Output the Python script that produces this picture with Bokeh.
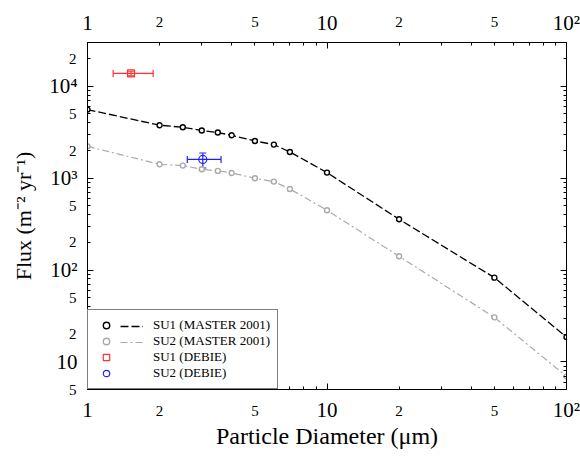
import math
from bokeh.plotting import figure
from bokeh.models import (LogAxis, FixedTicker, Range1d, Whisker, ColumnDataSource,
                          Legend, LegendItem, CustomJSTickFormatter, TeeHead)
from bokeh.embed import file_html
from bokeh.resources import INLINE

# ---------------- data ----------------
diameter = [1, 2, 2.5, 3, 3.5, 4, 5, 6, 7, 10, 20, 50, 100]
su1_master = [5580, 3770, 3580, 3300, 3140, 2930, 2540, 2320, 1930, 1150, 357, 82.6, 18.6]
su2_master = [2220, 1415, 1370, 1250, 1200, 1140, 998, 918, 762, 447, 141, 30.5, 6.95]

su1_debie_d = [1.52]
su1_debie_d_lo = [1.28]
su1_debie_d_hi = [1.88]
su1_debie_f = [13800]
su1_debie_f_lo = [13000]
su1_debie_f_hi = [14600]

su2_debie_d = [3.03]
su2_debie_d_lo = [2.61]
su2_debie_d_hi = [3.61]
su2_debie_f = [1600]
su2_debie_f_lo = [1290]
su2_debie_f_hi = [1880]

x_major_ticks = [1, 10, 100]
x_major_labels = ["1", "10", "10²"]
x_small_label_ticks = [2, 5, 20, 50]
y_major_ticks = [10, 100, 1000, 10000]
y_major_labels = ["10", "10²", "10³", "10⁴"]
y_small_label_ticks = [5, 20, 50, 200, 500, 2000, 5000, 20000]

x_minor_ticks = [k * 10 ** e for e in range(0, 2) for k in range(2, 10)]
y_minor_ticks = [k * 10 ** e for e in range(0, 5) for k in range(2, 10)]

# ---------------- layout ----------------
W, H = 580, 462
BL, BR, BT, BB = 87, 14, 42, 73

FONT = "Liberation Serif"
RED = "#ff3030"
BLUE = "#2020ff"
GRAY = "#aaaaaa"

p = figure(width=W, height=H, x_axis_type="log", y_axis_type="log",
           x_range=Range1d(1, 100), y_range=Range1d(5, 30000),
           output_backend="svg", toolbar_location=None,
           min_border_left=BL, min_border_right=BR, min_border_top=BT, min_border_bottom=BB)
p.grid.visible = False
p.outline_line_color = "black"
p.outline_line_width = 1
p.background_fill_color = "white"
p.border_fill_color = "white"


def lead(v):
    return str(int(round(v / 10 ** math.floor(math.log10(v)))))


def style_big(ax, major, minor, overrides, show_labels=True):
    ax.ticker = FixedTicker(ticks=major, minor_ticks=minor)
    ax.axis_line_color = "black"
    ax.major_tick_line_color = "black"
    ax.minor_tick_line_color = "black"
    ax.major_tick_in = 6
    ax.major_tick_out = 0
    ax.minor_tick_in = 3
    ax.minor_tick_out = 0
    ax.major_label_text_font = FONT
    ax.major_label_text_font_size = "21px"
    ax.major_label_text_color = "black"
    ax.major_label_standoff = 8
    if show_labels:
        ax.major_label_overrides = overrides
    else:
        ax.formatter = CustomJSTickFormatter(code="return ''")


def style_small(ax, ticks, standoff):
    ax.ticker = FixedTicker(ticks=ticks, minor_ticks=[])
    ax.axis_line_alpha = 0
    ax.major_tick_line_alpha = 0
    ax.minor_tick_line_alpha = 0
    ax.major_tick_in = 0
    ax.major_tick_out = 0
    ax.minor_tick_in = 0
    ax.minor_tick_out = 0
    ax.major_label_text_font = FONT
    ax.major_label_text_font_size = "15px"
    ax.major_label_text_color = "black"
    ax.major_label_standoff = standoff
    ax.major_label_overrides = {v: lead(v) for v in ticks}


x_over = dict(zip(x_major_ticks, x_major_labels))
y_over = dict(zip(y_major_ticks, y_major_labels))

x_bottom = p.below[0]
y_left = p.left[0]
style_big(x_bottom, x_major_ticks, x_minor_ticks, x_over)
style_big(y_left, y_major_ticks, y_minor_ticks, y_over)
y_left.major_label_standoff = 10

x_top = LogAxis()
style_big(x_top, x_major_ticks, x_minor_ticks, x_over)
p.add_layout(x_top, "above")
y_right = LogAxis()
style_big(y_right, y_major_ticks, y_minor_ticks, y_over, show_labels=False)
p.add_layout(y_right, "right")

x_bottom_small = LogAxis()
style_small(x_bottom_small, x_small_label_ticks, -19)
p.add_layout(x_bottom_small, "below")
x_top_small = LogAxis()
style_small(x_top_small, x_small_label_ticks, -19)
p.add_layout(x_top_small, "above")
y_left_small = LogAxis()
style_small(y_left_small, y_small_label_ticks, -30)
p.add_layout(y_left_small, "left")

x_bottom_small.axis_label = "Particle Diameter (μm)"
y_left_small.axis_label = "Flux (m⁻² yr⁻¹)"
for ax in (x_bottom_small, y_left_small):
    ax.axis_label_text_font = FONT
    ax.axis_label_text_font_style = "normal"
    ax.axis_label_text_color = "black"
x_bottom_small.axis_label_text_font_size = "24px"
x_bottom_small.axis_label_standoff = 4
y_left_small.axis_label_text_font_size = "22px"
y_left_small.axis_label_standoff = 30

# ---------------- series ----------------
src = ColumnDataSource(dict(d=diameter, su1=su1_master, su2=su2_master))
l1 = p.line("d", "su1", source=src, line_color="black", line_width=1.3, line_dash="8 3")
l2 = p.line("d", "su2", source=src, line_color=GRAY, line_width=1.2, line_dash="7 3 2 3")
m1 = p.scatter("d", "su1", source=src, marker="circle", size=5, line_color="black",
               line_width=1.4, fill_color="white")
m2 = p.scatter("d", "su2", source=src, marker="circle", size=5, line_color=GRAY,
               line_width=1.4, fill_color="white")

s1 = ColumnDataSource(dict(d=su1_debie_d, dlo=su1_debie_d_lo, dhi=su1_debie_d_hi,
                           f=su1_debie_f, flo=su1_debie_f_lo, fhi=su1_debie_f_hi))
s2 = ColumnDataSource(dict(d=su2_debie_d, dlo=su2_debie_d_lo, dhi=su2_debie_d_hi,
                           f=su2_debie_f, flo=su2_debie_f_lo, fhi=su2_debie_f_hi))

for s, col in ((s1, RED), (s2, BLUE)):
    p.add_layout(Whisker(base="f", lower="dlo", upper="dhi", dimension="width", source=s,
                         line_color=col, line_width=1.2,
                         upper_head=TeeHead(size=7, line_color=col, line_width=1.2),
                         lower_head=TeeHead(size=7, line_color=col, line_width=1.2)))
    p.add_layout(Whisker(base="d", lower="flo", upper="fhi", dimension="height", source=s,
                         line_color=col, line_width=1.2,
                         upper_head=TeeHead(size=7, line_color=col, line_width=1.2),
                         lower_head=TeeHead(size=7, line_color=col, line_width=1.2)))

d1 = p.scatter("d", "f", source=s1, marker="square", size=7, line_color=RED,
               line_width=1.2, fill_alpha=0)
d2 = p.scatter("d", "f", source=s2, marker="circle", size=8, line_color=BLUE,
               line_width=1.2, fill_alpha=0)

# ---------------- legend ----------------
common = dict(padding=7, margin=0, spacing=0, glyph_height=16, label_height=16,
              label_text_font=FONT, label_text_font_size="13px", label_text_color="black")
legend_a = Legend(items=[LegendItem(label="SU1 (MASTER 2001)", renderers=[m1]),
                         LegendItem(label="SU2 (MASTER 2001)", renderers=[m2]),
                         LegendItem(label="SU1 (DEBIE)", renderers=[d1]),
                         LegendItem(label="SU2 (DEBIE)", renderers=[d2])],
                  location=(0, 0), glyph_width=22, label_standoff=36,
                  border_line_color="black", border_line_width=1,
                  background_fill_color="white", background_fill_alpha=1, **common)
legend_b = Legend(items=[LegendItem(label="", renderers=[l1]),
                         LegendItem(label="", renderers=[l2])],
                  location=(26, 32), glyph_width=23, label_standoff=0,
                  border_line_alpha=0, background_fill_alpha=0, **common)
p.add_layout(legend_a)
p.add_layout(legend_b)

open("out.html", "w").write(file_html(p, INLINE))
